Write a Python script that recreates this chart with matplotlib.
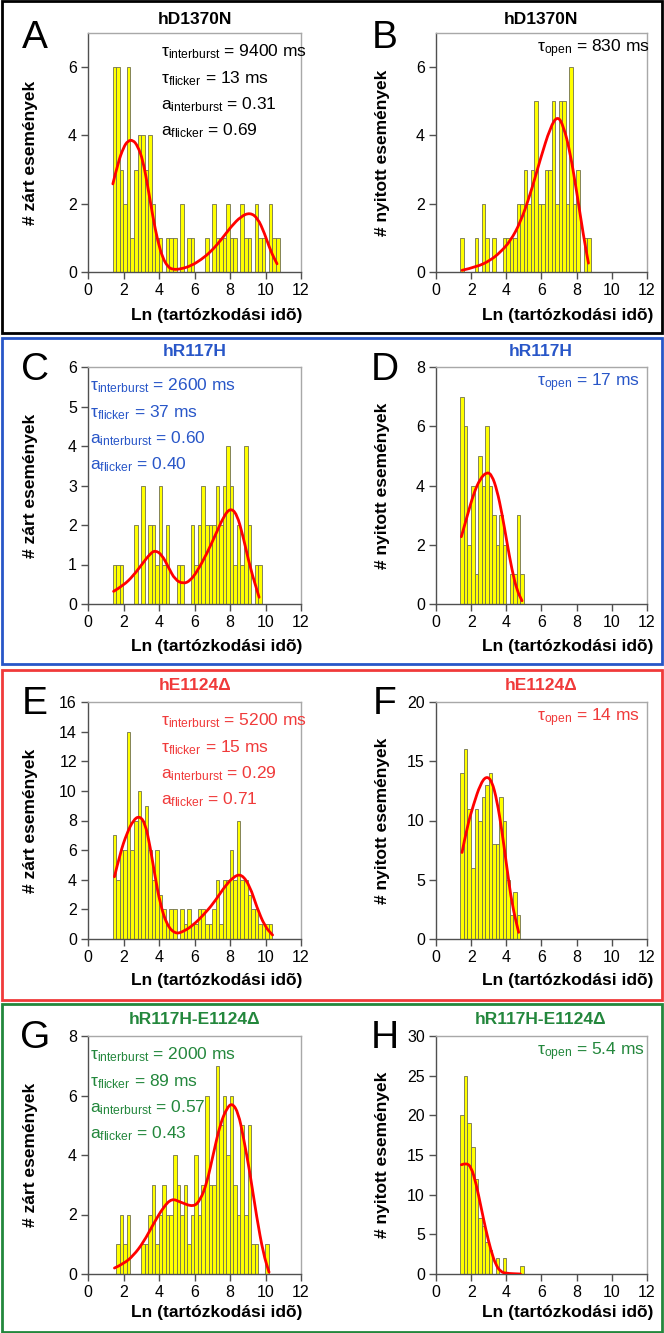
import numpy as np
import matplotlib
matplotlib.use('Agg')
import matplotlib.pyplot as plt
from matplotlib.patches import Rectangle, PathPatch
from matplotlib.path import Path

plt.rcParams['font.family'] = ['Liberation Sans', 'DejaVu Sans']
plt.rcParams['mathtext.fontset'] = 'custom'
plt.rcParams['mathtext.rm'] = 'Liberation Sans'
plt.rcParams['mathtext.it'] = 'Liberation Sans:italic'
plt.rcParams['mathtext.bf'] = 'Liberation Sans:bold'

# ---------------- data ----------------
bin_start = 1.39
bin_width = 0.2

counts_A = [6, 6, 3, 2, 6, 1, 3, 4, 4, 3, 4, 2, 1, 1, 0, 1, 1, 1, 0, 2, 0, 1, 1, 0, 0, 0,
            1, 0, 2, 1, 1, 1, 2, 1, 1, 0, 2, 1, 1, 0, 2, 1, 1, 0, 2, 1, 1]
counts_B = [1, 0, 0, 0, 1, 0, 2, 1, 0, 1, 0, 0, 1, 1, 1, 1, 2, 2, 3, 2, 3, 5, 2, 2, 3, 3,
            5, 2, 5, 5, 2, 6, 2, 3, 0, 1, 1]
counts_C = [1, 1, 1, 0, 0, 0, 2, 0, 3, 0, 2, 2, 1, 3, 1, 2, 0, 0, 1, 1, 0, 0, 2, 1, 2, 3,
            2, 2, 2, 3, 2, 3, 4, 3, 1, 2, 1, 4, 2, 0, 1, 1]
counts_D = [7, 6, 2, 4, 1, 5, 4, 6, 4, 3, 2, 3, 2, 0, 1, 1, 3, 1]
counts_E = [7, 4, 6, 6, 14, 6, 8, 10, 8, 9, 6, 4, 6, 3, 2, 1, 2, 2, 0, 2, 1, 2, 1, 1, 2, 2,
            1, 1, 2, 4, 1, 4, 4, 6, 4, 8, 4, 4, 3, 2, 2, 1, 1, 1, 1]
counts_F = [14, 16, 11, 6, 11, 10, 12, 13, 14, 8, 8, 12, 10, 5, 2, 4, 2]
counts_G = [0, 1, 2, 1, 2, 0, 0, 0, 1, 1, 2, 3, 1, 2, 3, 2, 2, 4, 3, 2, 3, 1, 2, 4, 2, 3,
            6, 3, 3, 7, 5, 6, 4, 6, 3, 2, 5, 2, 5, 1, 1, 0, 0, 1]
counts_H = [20, 25, 19, 16, 12, 7, 6, 4, 3, 0, 2, 0, 2, 0, 0, 0, 0, 1]

# fitted curves (x = Ln time, y = events)
fit_A_x = [1.4, 1.68, 2.0, 2.24, 2.53, 2.8, 3.09, 3.37, 3.65, 3.93, 4.21, 4.5, 4.78, 5.25,
           5.8, 6.37, 6.93, 7.5, 8.06, 8.62, 9.13, 9.56, 9.94, 10.3, 10.65]
fit_A_y = [2.58, 3.18, 3.65, 3.84, 3.87, 3.69, 3.28, 2.5, 1.63, 0.9, 0.41, 0.15, 0.07, 0.09,
           0.18, 0.36, 0.6, 0.94, 1.33, 1.63, 1.74, 1.58, 1.14, 0.6, 0.24]
fit_B_x = [1.48, 2.33, 3.09, 3.66, 4.22, 4.79, 5.36, 5.93, 6.5, 6.91, 7.25, 7.63, 8.01, 8.39, 8.67]
fit_B_y = [0.05, 0.15, 0.34, 0.58, 0.9, 1.44, 2.27, 3.3, 4.24, 4.58, 4.28, 3.5, 2.32, 1.05, 0.26]
fit_C_x = [1.44, 2.0, 2.56, 3.13, 3.5, 3.78, 4.16, 4.53, 4.91, 5.38, 5.75, 6.13, 6.69, 7.25,
           7.63, 8.0, 8.38, 8.75, 9.13, 9.64]
fit_C_y = [0.32, 0.47, 0.72, 1.06, 1.27, 1.36, 1.25, 0.93, 0.61, 0.51, 0.59, 0.81, 1.27, 1.82,
           2.2, 2.43, 2.29, 1.69, 0.93, 0.17]
fit_D_x = [1.44, 1.76, 2.14, 2.52, 2.9, 3.18, 3.47, 3.75, 4.03, 4.32, 4.6, 4.89]
fit_D_y = [2.27, 2.94, 3.73, 4.24, 4.46, 4.35, 3.84, 3.06, 2.1, 1.15, 0.47, 0.11]
fit_E_x = [1.49, 1.81, 2.19, 2.56, 2.9, 3.22, 3.5, 3.78, 4.06, 4.44, 4.91, 5.38, 5.94, 6.5,
           7.07, 7.63, 8.19, 8.66, 9.13, 9.5, 9.97, 10.4]
fit_E_y = [4.2, 5.79, 7.14, 8.04, 8.31, 7.82, 6.24, 4.21, 2.41, 0.95, 0.34, 0.5, 0.95, 1.62,
           2.41, 3.42, 4.21, 4.39, 3.54, 2.18, 0.83, 0.27]
fit_F_x = [1.48, 1.76, 2.14, 2.52, 2.86, 3.18, 3.47, 3.75, 4.03, 4.32, 4.7]
fit_F_y = [7.3, 9.41, 11.38, 13.06, 13.76, 13.34, 11.66, 9.13, 6.04, 2.95, 0.56]
fit_G_x = [1.49, 2.0, 2.56, 3.13, 3.69, 4.25, 4.72, 5.19, 5.94, 6.32, 6.69, 7.07, 7.44, 7.82,
           8.13, 8.47, 8.75, 9.13, 9.5, 9.88, 10.2]
fit_G_y = [0.2, 0.34, 0.62, 1.07, 1.69, 2.25, 2.54, 2.42, 2.25, 2.48, 3.04, 4.06, 5.02, 5.58,
           5.75, 5.41, 4.62, 3.38, 1.92, 0.68, 0.06]
fit_H_x = [1.44, 1.72, 2.0, 2.28, 2.56, 2.84, 3.12, 3.4, 3.68, 3.96, 4.8]
fit_H_y = [13.77, 14.0, 13.5, 11.4, 8.45, 5.5, 3.0, 1.13, 0.3, 0.08, 0.0]

titles = ['hD1370N', 'hR117H', 'hE1124Δ', 'hR117H-E1124Δ']
row_colors = ['#000000', '#2856c8', '#f03a3a', '#23873c']
letters = ['A', 'B', 'C', 'D', 'E', 'F', 'G', 'H']
ylabel_closed = '# zárt események'
ylabel_open = '# nyitott események'
xlabel = 'Ln (tartózkodási idõ)'

closed_params = [
    ('9400 ms', '13 ms', '0.31', '0.69'),
    ('2600 ms', '37 ms', '0.60', '0.40'),
    ('5200 ms', '15 ms', '0.29', '0.71'),
    ('2000 ms', '89 ms', '0.57', '0.43'),
]
open_tau = ['830 ms', '17 ms', '14 ms', '5.4 ms']

closed_counts = [counts_A, counts_C, counts_E, counts_G]
open_counts = [counts_B, counts_D, counts_F, counts_H]
closed_fits = [(fit_A_x, fit_A_y), (fit_C_x, fit_C_y), (fit_E_x, fit_E_y), (fit_G_x, fit_G_y)]
open_fits = [(fit_B_x, fit_B_y), (fit_D_x, fit_D_y), (fit_F_x, fit_F_y), (fit_H_x, fit_H_y)]
closed_ylim = [(7, [0, 2, 4, 6]), (6, [0, 1, 2, 3, 4, 5, 6]), (16, list(range(0, 17, 2))), (8, [0, 2, 4, 6, 8])]
open_ylim = [(7, [0, 2, 4, 6]), (8, [0, 2, 4, 6, 8]), (20, [0, 5, 10, 15, 20]), (30, [0, 5, 10, 15, 20, 25, 30])]

# ---------------- layout ----------------
W, H = 664, 1333
fig = plt.figure(figsize=(W / 100, H / 100), dpi=100)

def fx(px):
    return px / W

def fy(py):
    return 1 - py / H

left_x = (88, 301)
right_x = (436, 647)
rows_y = [(33, 272), (367, 604), (702, 939), (1036, 1274)]
title_y = [20, 352, 686, 1020]
xlabel_y = [316, 646, 981, 1313]
boxes = [(1, 333), (338, 664), (670, 1000), (1004, 1332)]

def style_axes(ax, ymax, yticks):
    ax.set_xlim(0, 12)
    ax.set_ylim(0, ymax)
    ax.set_xticks([0, 2, 4, 6, 8, 10, 12])
    ax.set_yticks(yticks)
    for s in ['top', 'right']:
        ax.spines[s].set_color('#a8a8a8')
        ax.spines[s].set_linewidth(1.0)
    for s in ['left', 'bottom']:
        ax.spines[s].set_color('#505050')
        ax.spines[s].set_linewidth(1.0)
    ax.tick_params(direction='out', length=5, width=1, color='#505050',
                   labelsize=11.5, top=False, right=False, pad=3)

def smooth_curve(ax, xs, ys):
    # draw a smooth line through the read points (quadratic B-spline style path)
    pts = list(zip(xs, ys))
    verts = [pts[0]]
    codes = [Path.MOVETO]
    for i in range(1, len(pts) - 1):
        mid = ((pts[i][0] + pts[i + 1][0]) / 2, (pts[i][1] + pts[i + 1][1]) / 2)
        verts += [pts[i], mid]
        codes += [Path.CURVE3, Path.CURVE3]
    verts.append(pts[-1])
    codes.append(Path.LINETO)
    ax.add_patch(PathPatch(Path(verts, codes), fill=False, edgecolor='#ff0000',
                           lw=2.0, capstyle='round', joinstyle='round', zorder=3))

def draw_hist(ax, counts, fit):
    x = bin_start + bin_width * np.arange(len(counts))
    ax.bar(x, counts, width=bin_width, align='edge', color='#ffff00',
           edgecolor='#707050', linewidth=0.6)
    smooth_curve(ax, fit[0], fit[1])

for r in range(4):
    col = row_colors[r]
    y0, y1 = rows_y[r]
    axL = fig.add_axes([fx(left_x[0]), fy(y1), fx(left_x[1] - left_x[0]), (y1 - y0) / H])
    style_axes(axL, *closed_ylim[r])
    draw_hist(axL, closed_counts[r], closed_fits[r])
    axR = fig.add_axes([fx(right_x[0]), fy(y1), fx(right_x[1] - right_x[0]), (y1 - y0) / H])
    style_axes(axR, *open_ylim[r])
    draw_hist(axR, open_counts[r], open_fits[r])

    fig.text(fx(195), fy(title_y[r]), titles[r], ha='center', va='center',
             fontsize=12.5, fontweight='bold', color=col)
    fig.text(fx(541), fy(title_y[r]), titles[r], ha='center', va='center',
             fontsize=12.5, fontweight='bold', color=col)
    fig.text(fx(217), fy(xlabel_y[r]), xlabel, ha='center', va='center',
             fontsize=12.5, fontweight='bold')
    fig.text(fx(568), fy(xlabel_y[r]), xlabel, ha='center', va='center',
             fontsize=12.5, fontweight='bold')
    fig.text(fx(31), fy((y0 + y1) / 2), ylabel_closed, ha='center', va='center',
             rotation=90, fontsize=12.5, fontweight='bold')
    fig.text(fx(382), fy((y0 + y1) / 2), ylabel_open, ha='center', va='center',
             rotation=90, fontsize=12.5, fontweight='bold')
    fig.text(fx(35), fy(title_y[r] + 18), letters[2 * r], ha='center', va='center',
             fontsize=28)
    fig.text(fx(385), fy(title_y[r] + 18), letters[2 * r + 1], ha='center', va='center',
             fontsize=28)
    b0, b1 = boxes[r]
    fig.add_artist(Rectangle((fx(1.5), fy(b1)), fx(660), (b1 - b0) / H,
                             transform=fig.transFigure, fill=False,
                             edgecolor=col, linewidth=2.0))

    p = closed_params[r]
    txt_color = 'black' if r == 0 else col
    tx = 161 if r in (0, 2) else 90
    ty0 = y0 + 19
    lines = ['τ$_{\\mathrm{interburst}}$ = ' + p[0],
             'τ$_{\\mathrm{flicker}}$ = ' + p[1],
             'a$_{\\mathrm{interburst}}$ = ' + p[2],
             'a$_{\\mathrm{flicker}}$ = ' + p[3]]
    for k, ln in enumerate(lines):
        fig.text(fx(tx), fy(ty0 + 26.3 * k), ln, ha='left', va='center',
                 fontsize=12.5, color=txt_color)
    fig.text(fx(537), fy(y0 + 16), 'τ$_{\\mathrm{open}}$ = ' + open_tau[r], ha='left',
             va='center', fontsize=12.5, color=txt_color)

fig.savefig('out.png', dpi=100)
